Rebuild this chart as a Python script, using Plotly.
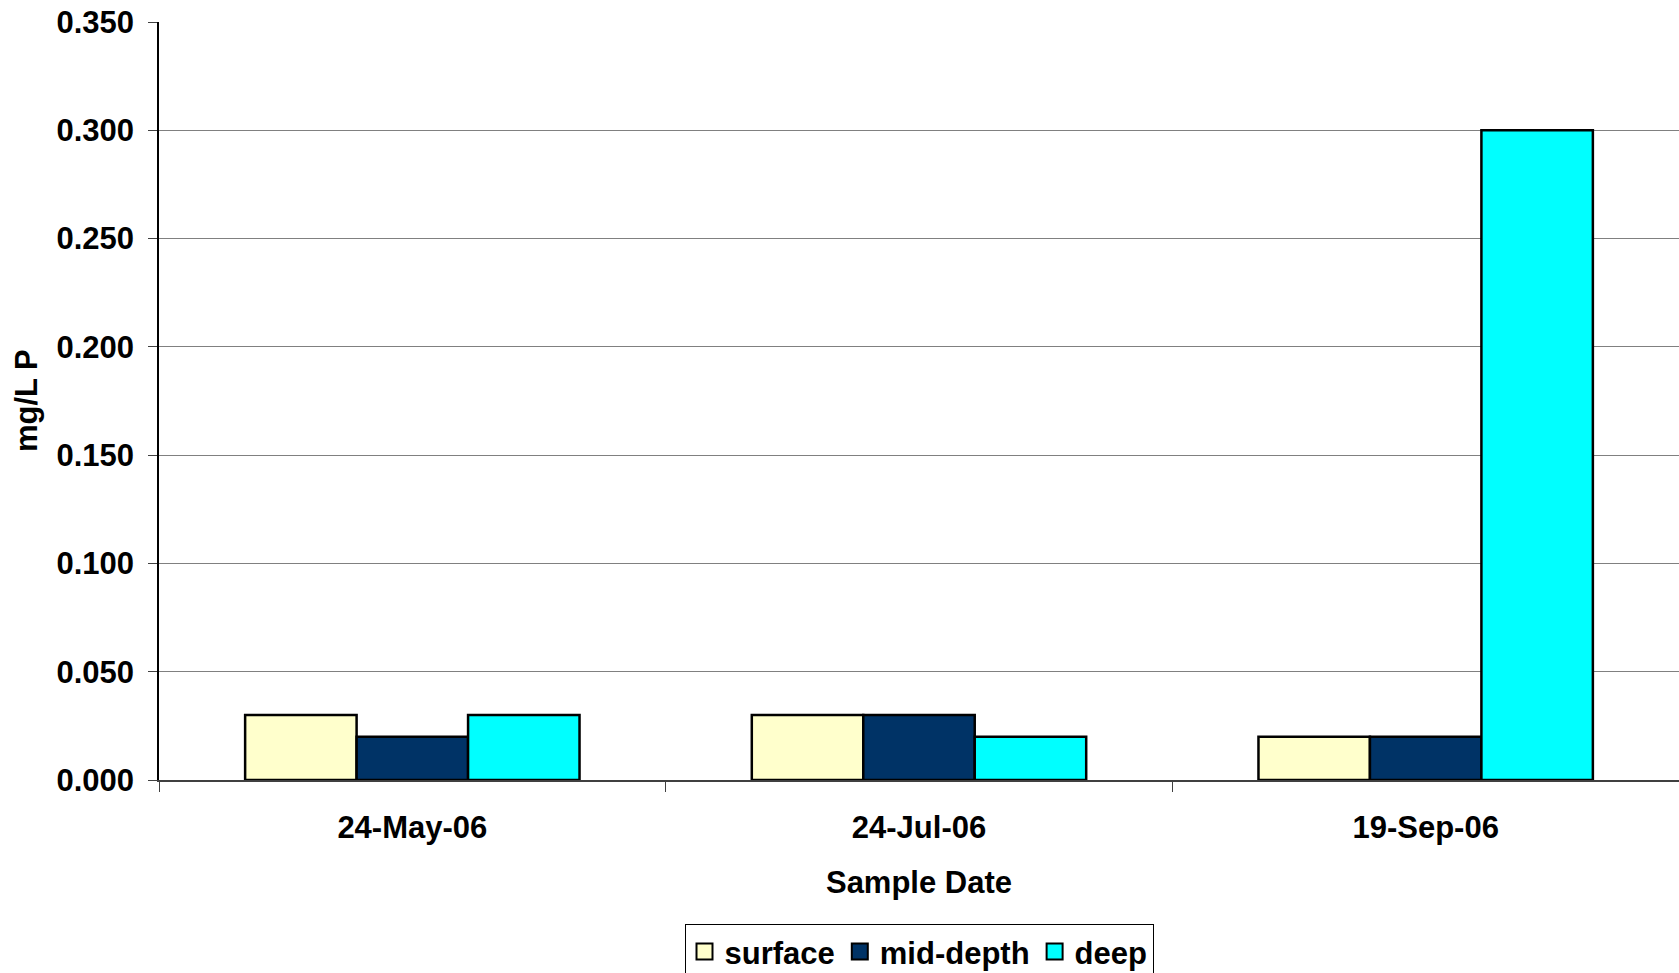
import plotly.graph_objects as go

# Total phosphorus by sample date and depth
dates = ["24-May-06", "24-Jul-06", "19-Sep-06"]
surface = [0.030, 0.030, 0.020]
mid_depth = [0.020, 0.030, 0.020]
deep = [0.030, 0.020, 0.300]

series = [
    ("surface", surface, "#FFFFCC"),
    ("mid-depth", mid_depth, "#003366"),
    ("deep", deep, "#00FFFF"),
]

font_family = "Liberation Sans, Arial, sans-serif"
fsize = 31

W, H = 1679, 973
ML, MR, MT, MB = 159, 0, 22, 193

fig = go.Figure()
for name, vals, color in series:
    fig.add_trace(go.Bar(
        x=dates, y=vals, name=name, showlegend=False, legendgroup=name,
        marker=dict(color=color, line=dict(color="black", width=2.5)),
    ))
# square swatches for the legend
for name, vals, color in series:
    fig.add_trace(go.Scatter(
        x=[None], y=[None], mode="markers", name=name, legendgroup=name,
        marker=dict(symbol="square", size=16, color=color,
                    line=dict(color="black", width=2)),
    ))

# vertical axis title, placed near the left edge of the page
fig.add_annotation(
    text="mg/L P", textangle=-90, showarrow=False,
    xref="paper", x=-(ML - 26) / (W - ML - MR), xanchor="center",
    yref="paper", y=0.5, yanchor="middle",
    font=dict(size=fsize, weight="bold", color="black"),
)

fig.update_layout(
    width=W, height=H,
    margin=dict(l=ML, r=MR, t=MT, b=MB),
    paper_bgcolor="white", plot_bgcolor="white",
    barmode="group", bargap=0.34, bargroupgap=0,
    font=dict(family=font_family, size=fsize, color="black", weight="bold"),
    showlegend=True,
    legend=dict(
        orientation="h", x=0.5, xanchor="center",
        yref="container", y=0.0505, yanchor="top",
        bgcolor="white", bordercolor="black", borderwidth=1,
        font=dict(size=fsize, weight="bold"),
        itemwidth=30, tracegroupgap=0,
    ),
    xaxis=dict(
        type="category",
        showline=True, linecolor="#404040", linewidth=1.5,
        ticks="outside", tickson="boundaries", ticklen=10, tickcolor="#404040",
        ticklabelstandoff=19,
        showgrid=False,
        title=dict(text="Sample Date", standoff=27, font=dict(size=fsize, weight="bold")),
        tickfont=dict(size=fsize, weight="bold"),
    ),
    yaxis=dict(
        range=[0, 0.35], dtick=0.05, tickformat=".3f",
        showline=True, linecolor="black", linewidth=1.5,
        ticks="outside", ticklen=9, tickcolor="#404040",
        ticklabelstandoff=8,
        showgrid=True, gridcolor="#808080", gridwidth=1,
        zeroline=False,
        tickfont=dict(size=fsize, weight="bold"),
    ),
)

fig.write_html("out.html")
